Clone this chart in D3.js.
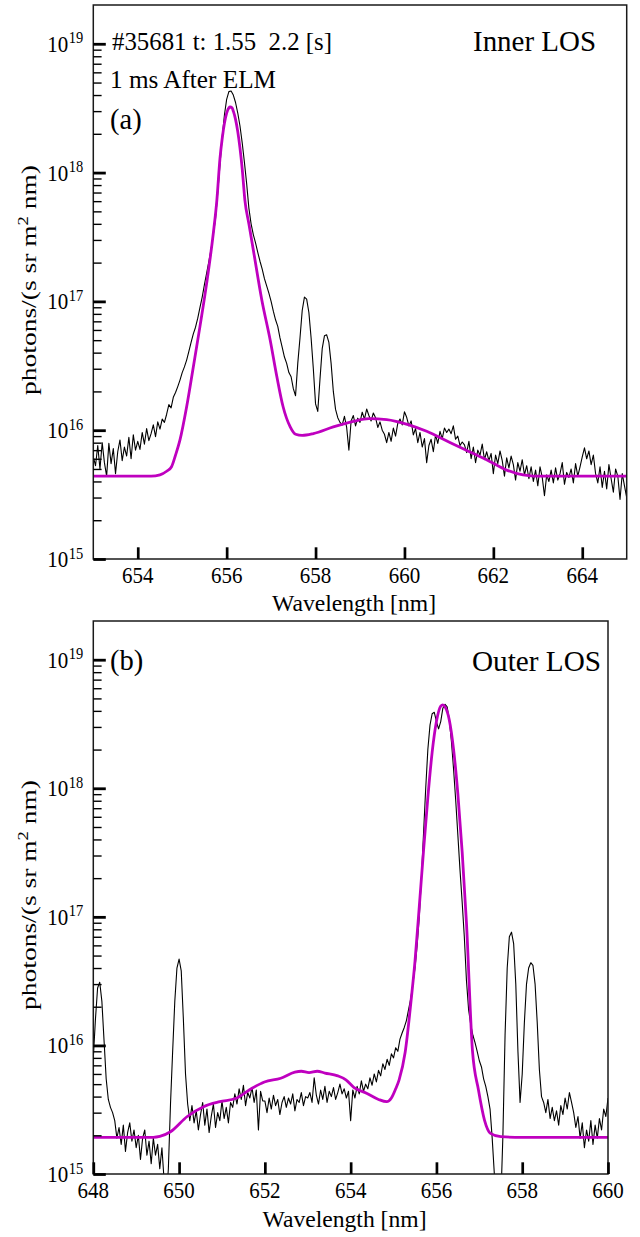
<!DOCTYPE html>
<html>
<head>
<meta charset="utf-8">
<script src="https://cdn.jsdelivr.net/npm/d3@7"></script>
<style>
  body { margin: 0; background: #fff; }
  svg { display: block; }
</style>
</head>
<body>
<svg id="fig" width="640" height="1237" font-family="'Liberation Serif', 'DejaVu Serif', serif"></svg>
<script>
// Spectral radiance values are given in units of 1e15 photons/(s sr m^2 nm)
const UNIT = 1e15;
const sampleStep = 0.05;          // nm between spectrometer samples

// ---- Inner line of sight (a): measured spectrum, sampled from 653.00 nm ----
const innerStart = 653.0;
const innerMeasured = [
  6.2, 5.3, 7.6, 5.0, 8.0, 5.6, 4.4, 7.9, 5.5, 7.2, 4.6, 6.8, 8.4, 5.8, 7.4, 6.3, 8.8, 6.0, 9.2, 7.0,
  8.2, 7.1, 9.6, 7.8, 10.3, 8.3, 9.4, 11.0, 8.9, 11.6, 10.2, 12.2, 11.5, 13.3, 15.8, 14.9, 18.0, 19.6, 21.8, 24.5,
  28, 31, 35, 41, 48, 56, 63, 74, 90, 108, 135, 166, 205, 255, 330, 440, 700, 1150, 1900, 2800,
  3700, 4250, 4300, 4000, 3500, 2900, 2300, 1700, 1200, 820, 530, 400, 330, 285, 240, 205, 178, 150, 132, 116,
  100, 84, 72, 64, 52, 44, 37, 33, 28, 26, 21, 18.5, 33, 52, 85, 108, 104, 82, 52, 30,
  16, 14, 25, 43, 54, 55, 48, 33, 20, 14.5, 12.5, 11.5, 11.0, 12.8, 10.5, 7.0, 11.8, 13.0, 10.8, 12.4,
  11.5, 13.8, 12.2, 14.6, 13.0, 11.8, 13.6, 12.5, 10.5, 11.6, 10.0, 9.3, 8.0, 9.6, 8.2, 10.4, 9.0, 11.3, 12.2, 11.0,
  13.9, 12.6, 10.8, 11.8, 9.2, 10.3, 8.0, 9.6, 7.4, 8.6, 5.6, 7.6, 8.5, 6.8, 9.2, 7.9, 9.8, 8.6, 10.4, 9.6,
  10.2, 9.4, 10.8, 8.5, 9.0, 7.6, 8.1, 7.7, 6.7, 8.2, 6.0, 7.4, 5.6, 7.0, 6.4, 7.8, 5.9, 6.8, 5.8, 6.6,
  4.6, 6.4, 5.5, 6.9, 5.8, 4.4, 6.1, 5.1, 6.3, 5.4, 4.1, 5.6, 4.8, 5.9, 4.5, 5.3, 4.2, 5.2, 4.0, 4.9,
  3.7, 5.2, 4.3, 3.1, 4.5, 4.0, 4.9, 3.9, 5.1, 4.1, 4.6, 5.6, 3.8, 4.7, 4.3, 5.0, 3.9, 5.5, 4.4, 5.2,
  6.2, 7.3, 6.0, 6.9, 5.4, 6.4, 4.6, 3.9, 5.2, 3.6, 4.8, 3.5, 5.4, 4.2, 3.3, 5.0, 4.4, 2.9, 4.6, 3.7,
  3.0
];

// ---- Inner line of sight (a): synthetic fit ----
const innerFitWl = [653.0, 654.3, 654.5, 654.65, 654.76, 654.85, 654.95, 655.1, 655.25, 655.4,
  655.55, 655.7, 655.78, 655.85, 655.9, 655.95, 656.0, 656.05, 656.08, 656.12,
  656.15, 656.2, 656.25, 656.3, 656.35, 656.41, 656.5, 656.6, 656.79, 656.98,
  657.13, 657.27, 657.43, 657.55, 657.7, 657.95, 658.4, 658.85, 659.2, 659.6,
  660.1, 660.5, 661.0, 661.5, 661.93, 662.3, 662.67, 662.9, 665.0];
const innerFitVal = [4.4, 4.4, 4.5, 4.8, 5.2, 6.4, 8.4, 15.2, 31, 64,
  138, 338, 612, 1290, 1840, 2410, 2890, 3180, 3230, 3180,
  3000, 2590, 2080, 1550, 1070, 612, 400, 251, 103, 50,
  26, 15.2, 10.6, 9.3, 9.1, 9.4, 10.6, 11.7, 12.3, 12.1,
  11.0, 9.8, 8.1, 6.7, 5.7, 4.9, 4.49, 4.4, 4.4];

// ---- Outer line of sight (b): measured spectrum, sampled from 648.00 nm ----
const outerStart = 648.0;
const outerMeasured = [
  8.0, 16, 28, 31, 22, 11, 5.5, 3.8, 3.3, 3.0, 2.6, 1.9, 2.3, 1.7, 2.4, 1.5, 2.1, 2.5, 1.8, 2.2,
  1.6, 2.0, 1.3, 1.9, 2.2, 1.4, 1.8, 1.2, 1.9, 1.4, 1.7, 1.1, 1.6, 0.9, 0.6, 1.1, 3.5, 9, 22, 40,
  47, 38, 16, 6.0, 3.5, 2.6, 3.4, 2.5, 3.1, 2.2, 2.9, 3.6, 2.4, 3.2, 2.1, 2.8, 3.5, 2.3, 3.0, 2.6,
  3.7, 2.7, 3.3, 2.5, 3.6, 3.3, 4.2, 3.5, 4.6, 3.8, 4.9, 3.4, 4.3, 3.9, 4.7, 3.6, 4.5, 2.2, 4.4, 3.7,
  3.7, 3.0, 3.9, 3.2, 4.1, 3.4, 3.8, 2.9, 3.6, 4.0, 3.3, 3.9, 3.5, 4.2, 3.1, 3.8, 3.6, 4.3, 3.4, 4.0,
  3.9, 4.3, 3.6, 5.6, 4.1, 3.5, 4.5, 3.8, 4.8, 3.6, 4.4, 4.0, 4.7, 3.8, 4.3, 5.0, 4.2, 4.6, 3.9, 4.4,
  2.6, 4.5, 3.9, 4.8, 4.2, 5.3, 4.4, 5.0, 4.6, 5.6, 4.9, 6.0, 5.2, 6.4, 5.8, 7.2, 6.5, 7.8, 7.0, 8.6,
  8.0, 9.6, 9.0, 11.2, 12.5, 13.8, 15.6, 19, 23, 30, 40, 60, 100, 200, 450, 1000, 2000, 3100, 3800, 3900,
  3300, 2900, 3300, 4200, 4500, 4300, 3400, 2300, 1400, 800, 430, 230, 130, 70, 32, 19, 14.5, 12, 10.5, 9.0,
  7.6, 6.8, 5.5, 4.8, 4.0, 3.2, 1.9, 1.0, 0.6, 0.5, 0.6, 2.0, 12, 40, 70, 76, 62, 30, 9, 3.6,
  6.0, 15, 30, 40, 44, 42, 30, 15, 6.5, 4.0, 3.6, 3.0, 3.8, 2.7, 3.3, 2.6, 3.1, 2.4, 3.4, 2.9,
  3.9, 3.2, 4.3, 3.6, 3.0, 2.3, 2.8, 1.9, 2.5, 1.6, 2.2, 1.8, 2.6, 1.7, 2.4, 1.9, 2.7, 2.2, 3.2, 2.8,
  3.9
];

// ---- Outer line of sight (b): synthetic fit ----
const outerFitWl = [648.0, 649.4, 649.55, 649.8, 650.19, 650.57, 650.95, 651.33, 651.7, 651.99,
  652.37, 652.7, 652.85, 653.03, 653.22, 653.4, 653.7, 653.89, 654.08, 654.37,
  654.65, 654.84, 654.95, 655.05, 655.13, 655.27, 655.41, 655.5, 655.6, 655.7,
  655.8, 655.9, 656.0, 656.1, 656.15, 656.2, 656.3, 656.4, 656.5, 656.6,
  656.7, 656.84, 656.98, 657.12, 657.26, 657.5, 658.0, 660.0];
const outerFitVal = [1.93, 1.93, 1.96, 2.13, 2.8, 3.34, 3.65, 3.88, 4.65, 5.2,
  5.56, 6.2, 6.3, 6.15, 6.3, 6.1, 5.8, 5.4, 4.7, 4.25,
  3.8, 3.65, 3.9, 4.6, 5.4, 8.8, 22.5, 45, 120, 330,
  850, 1900, 3300, 4350, 4450, 4300, 3400, 2000, 900, 320,
  90, 9.1, 4.5, 2.63, 2.07, 1.95, 1.93, 1.93];

// ---- Axis ticks and labels ----
const innerXTicks = [654, 656, 658, 660, 662, 664];
const outerXTicks = [648, 650, 652, 654, 656, 658, 660];
const yDecades = [15, 16, 17, 18, 19];
const yLimits = [1e15, 2e19];
const innerNotes = ["#35681 t: 1.55  2.2 [s]", "1 ms After ELM"];

// ---------------------------------------------------------------
const FONT = "'Liberation Serif', 'DejaVu Serif', serif";
const svg = d3.select("#fig");
svg.append("rect").attr("width", 640).attr("height", 1237).attr("fill", "#fff");

const VS = 1.12;   // vertical glyph stretch of the figure
function note(g, str, x, y, size, anchor, len) {
  const t = g.append("text")
    .attr("transform", `translate(${x},${y}) scale(1,${VS})`)
    .attr("font-family", FONT)
    .attr("font-size", size)
    .attr("fill", "#000")
    .attr("text-anchor", anchor || "start")
    .style("white-space", "pre")
    .text(str);
  if (len) t.attr("textLength", len).attr("lengthAdjust", "spacingAndGlyphs");
  return t;
}

const minorTicks = [];
yDecades.forEach(k => { for (let m = 2; m <= 9; m++) { const v = m * Math.pow(10, k); if (v < yLimits[1]) minorTicks.push(v); } });

function drawPanel(p) {
  const x = d3.scaleLinear().domain(p.xDomain).range([p.left, p.right]);
  const y = d3.scaleLog().domain(yLimits).range([p.bottom, p.top]);
  const g = svg.append("g");

  const clipId = "clip-" + p.id;
  g.append("clipPath").attr("id", clipId).append("rect")
    .attr("x", p.left).attr("y", p.top).attr("width", p.right - p.left).attr("height", p.bottom - p.top);

  const measured = p.measured.map((v, i) => ({ wl: p.start + i * sampleStep, v }));
  const fit = d3.zip(p.fitWl, p.fitVal).map(([wl, v]) => ({ wl, v }));

  const plot = g.append("g").attr("clip-path", `url(#${clipId})`);
  plot.append("path").datum(measured)
    .attr("fill", "none").attr("stroke", "#000").attr("stroke-width", 1.1).attr("stroke-linejoin", "round")
    .attr("d", d3.line().x(d => x(d.wl)).y(d => y(d.v * UNIT)));
  plot.append("path").datum(fit)
    .attr("fill", "none").attr("stroke", "#bf00bf").attr("stroke-width", 2.8).attr("stroke-linejoin", "round")
    .attr("d", d3.line().curve(d3.curveMonotoneX).x(d => x(d.wl)).y(d => y(d.v * UNIT)));

  // frame
  g.append("rect").attr("x", p.left).attr("y", p.top)
    .attr("width", p.right - p.left).attr("height", p.bottom - p.top)
    .attr("fill", "none").attr("stroke", "#1a1a1a").attr("stroke-width", 1.5);

  // x ticks (inward)
  const xa = g.append("g").attr("transform", `translate(0,${p.bottom})`)
    .call(d3.axisBottom(x).tickValues(p.xTicks).tickSizeInner(-11.7).tickSizeOuter(0).tickFormat(() => ""));
  xa.select(".domain").remove();
  xa.selectAll("line").attr("stroke", "#000").attr("stroke-width", 2.7);
  p.xTicks.forEach(t => note(g, String(t), x(t), p.bottom + 23.5, 21, "middle"));

  // y ticks (inward): decades and minors
  const ya = g.append("g").attr("transform", `translate(${p.left},0)`)
    .call(d3.axisLeft(y).tickValues(yDecades.map(k => Math.pow(10, k))).tickSizeInner(-12.5).tickSizeOuter(0).tickFormat(() => ""));
  ya.select(".domain").remove();
  ya.selectAll("line").attr("stroke", "#000").attr("stroke-width", 2.8);
  const ym = g.append("g").attr("transform", `translate(${p.left},0)`)
    .call(d3.axisLeft(y).tickValues(minorTicks).tickSizeInner(-8.3).tickSizeOuter(0).tickFormat(() => ""));
  ym.select(".domain").remove();
  ym.selectAll("line").attr("stroke", "#000").attr("stroke-width", 1.4);
  yDecades.forEach(k => {
    const ty = y(Math.pow(10, k));
    note(g, "10", 68.3, ty + 8, 21, "end");
    note(g, String(k), 68.8, ty - 0.5, 14.5, "start");
  });

  // axis labels
  note(g, "Wavelength [nm]", p.xlabelX, p.xlabelY, 21.5, "start", 164);
  const yl = g.append("text")
    .attr("transform", `translate(36,${p.ylabelY}) rotate(-90)`)
    .attr("font-family", FONT).attr("fill", "#000")
    .attr("font-size", 21.5).attr("text-anchor", "middle")
    .attr("textLength", 230).attr("lengthAdjust", "spacingAndGlyphs");
  yl.append("tspan").text("photons/(s sr m");
  yl.append("tspan").attr("font-size", 14.5).attr("dy", -8).text("2");
  yl.append("tspan").attr("dy", 8).text(" nm)");
  return g;
}

const gA = drawPanel({
  id: "inner", xDomain: [653, 665], left: 93.3, right: 626.7, top: 5, bottom: 559,
  start: innerStart, measured: innerMeasured, fitWl: innerFitWl, fitVal: innerFitVal,
  xTicks: innerXTicks, xlabelX: 272, xlabelY: 610.5, ylabelY: 280
});
note(gA, innerNotes[0], 112, 50, 23, "start", 220);
note(gA, innerNotes[1], 110, 88.3, 23, "start", 166);
note(gA, "(a)", 110, 128.5, 26, "start", 31.7);
note(gA, "Inner LOS", 596, 51, 25.5, "end", 123);

const gB = drawPanel({
  id: "outer", xDomain: [648, 660], left: 93.3, right: 608, top: 621, bottom: 1174,
  start: outerStart, measured: outerMeasured, fitWl: outerFitWl, fitVal: outerFitVal,
  xTicks: outerXTicks, xlabelX: 262.5, xlabelY: 1226.7, ylabelY: 895
});
note(gB, "(b)", 110, 670, 26, "start", 33.3);
note(gB, "Outer LOS", 601, 671, 25.5, "end", 129);
</script>
</body>
</html>
